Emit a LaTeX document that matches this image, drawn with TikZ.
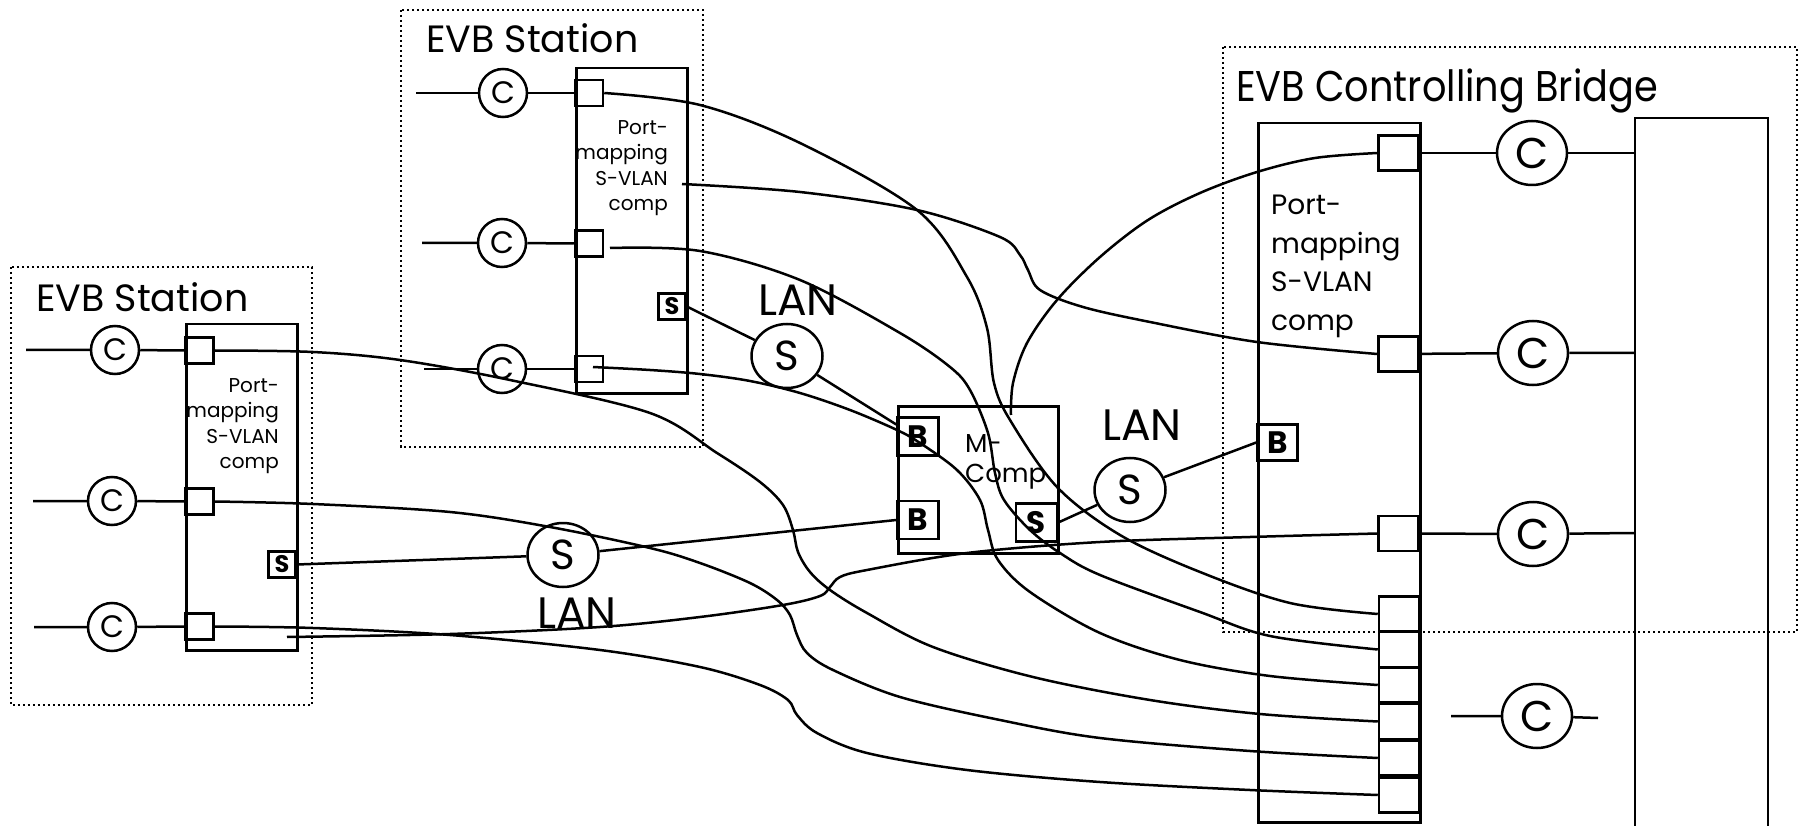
\documentclass[tikz,border=0pt]{standalone}
\usepackage{fontspec}
\setmainfont{Poppins}
\newfontfamily\narrowfont{Poppins}[FakeStretch=0.89]
\usetikzlibrary{shapes.geometric,calc}
\begin{document}
\begin{tikzpicture}[x=1pt,y=-1pt,
  ln/.style={line width=2.5pt},
  dotbox/.style={line width=2.4pt, dash pattern=on 2.4pt off 2.6pt},
  port/.style={draw, line width=2.5pt, minimum width=28pt, minimum height=26pt, inner sep=0pt},
  bport/.style={draw, line width=2.5pt, minimum width=40pt, minimum height=35pt, inner sep=0pt},
  mport/.style={draw, line width=2.5pt, minimum width=41pt, minimum height=38pt, inner sep=0pt, font=\fontsize{31}{31}\selectfont\bfseries},
  sport/.style={draw, line width=2.5pt, minimum width=27pt, minimum height=26pt, inner sep=0pt, font=\fontsize{24}{24}\selectfont\bfseries},
  cs/.style={draw, circle, line width=2.5pt, minimum size=48pt, inner sep=0pt, font=\fontsize{31}{31}\selectfont},
  cb/.style={draw, ellipse, line width=2.5pt, minimum width=70pt, minimum height=64pt, inner sep=0pt, font=\fontsize{43}{43}\selectfont},
  lan/.style={draw, ellipse, line width=2.5pt, minimum width=71pt, minimum height=64pt, inner sep=0pt, font=\fontsize{42}{42}\selectfont},
  box/.style={draw, line width=2.5pt, inner sep=0pt, anchor=north west},
  title/.style={anchor=base west, inner sep=0pt, font=\fontsize{38}{40}\selectfont},
  lantxt/.style={anchor=base west, inner sep=0pt, font=\fontsize{44}{44}\selectfont},
  stxt/.style={anchor=north east, inner sep=0pt, align=right, font=\fontsize{20}{25.5}\selectfont},
  curve/.style={ln, smooth, tension=0.55}
]
\useasboundingbox (0,0) rectangle (1800,826);

% ---------------- left EVB station ----------------
\draw[dotbox] (11,267) rectangle (312,705);
\node[title] (lstitle) at (36,312) {EVB Station};
\node[box, minimum width=111pt, minimum height=326pt] (lsbox) at (185,323) {};
\node[stxt] (lstext) at (279,378) {Port-\\mapping\\S-VLAN\\comp};
\node[port] (lsp1) at (199.5,350.5) {};
\node[port] (lsp2) at (199.5,501.5) {};
\node[port] (lsp3) at (199.5,626.5) {};
\node[sport] (lss) at (282,564.5) {S};
\node[cs] (lsc1) at (115,350) {C};
\node[cs] (lsc2) at (112,501) {C};
\node[cs] (lsc3) at (112,627) {C};
\coordinate (lsl1) at (26,350);
\coordinate (lsl2) at (33,501);
\coordinate (lsl3) at (34,627);
\coordinate (lsin) at (287,637);
\draw[ln] (lsl1) -- (lsc1) -- (lsp1);
\draw[ln] (lsl2) -- (lsc2) -- (lsp2);
\draw[ln] (lsl3) -- (lsc3) -- (lsp3);

% ---------------- top EVB station ----------------
\draw[dotbox] (401,10) rectangle (703,447);
\node[title] (tstitle) at (426,53) {EVB Station};
\node[box, minimum width=111pt, minimum height=325pt] (tsbox) at (575,67) {};
\node[stxt] (tstext) at (668,120) {Port-\\mapping\\S-VLAN\\comp};
\node[port] (tsp1) at (589,93) {};
\node[port] (tsp2) at (589,243.5) {};
\node[port] (tsp3) at (589,369) {};
\node[sport] (tss) at (672,306.5) {S};
\node[cs] (tsc1) at (503,93) {C};
\node[cs] (tsc2) at (502,243) {C};
\node[cs] (tsc3) at (502,369) {C};
\coordinate (tsl1) at (416,93);
\coordinate (tsl2) at (422,243);
\coordinate (tsl3) at (424,369);
\coordinate (ts2s) at (610,248);
\coordinate (ts3s) at (593,367);
\coordinate (tsin) at (682,184);
\draw[ln] (tsl1) -- (tsc1) -- (tsp1);
\draw[ln] (tsl2) -- (tsc2) -- (tsp2);
\draw[ln] (tsl3) -- (tsc3) -- (tsp3);

% ---------------- M-Comp ----------------
\node[box, minimum width=160pt, minimum height=147pt] (mbox) at (897,405) {};
\node[anchor=north west, inner sep=0pt, align=left, font=\fontsize{26}{30}\selectfont] (mtext) at (965,434) {M-\\Comp};
\node[mport] (mb1) at (918,436.5) {B};
\node[mport] (mb2) at (918,520) {B};
\node[mport] (ms) at (1036.5,522.5) {S};
\coordinate (mtop) at (1011,415);

% ---------------- EVB controlling bridge ----------------
\draw[dotbox] (1223,47) rectangle (1797,632);
\node[anchor=base west, inner sep=0pt, font=\fontsize{43}{45}\narrowfont] (brtitle) at (1236,102) {EVB Controlling Bridge};
\node[box, minimum width=162pt, minimum height=699pt] (brbox) at (1257,122) {};
\draw[ln] (1635,830) -- (1635,118) -- (1768,118) -- (1768,830);
\node[anchor=north west, inner sep=0pt, align=left, font=\fontsize{28}{38.5}\selectfont] (brtext) at (1271,195) {Port-\\mapping\\S-VLAN\\comp};
\node[bport] (bp1) at (1398.5,153) {};
\node[bport] (bp2) at (1398.5,354) {};
\node[bport] (bp3) at (1398.5,533.5) {};
\node[bport] (bs1) at (1399,614) {};
\node[bport] (bs2) at (1399,649.5) {};
\node[bport] (bs3) at (1399,685) {};
\node[bport] (bs4) at (1399,721.5) {};
\node[bport] (bs5) at (1399,758) {};
\node[bport] (bs6) at (1399,795) {};
\node[mport, minimum width=40pt, minimum height=36pt] (bb) at (1277.5,442.5) {B};
\node[cb] (bc1) at (1532,153) {C};
\node[cb] (bc2) at (1533,353) {C};
\node[cb] (bc3) at (1533,534) {C};
\node[cb] (bc4) at (1537,716) {C};
\coordinate (bx1) at (1635,153);
\coordinate (bx2) at (1635,353);
\coordinate (bx3) at (1635,533);
\coordinate (bl4) at (1451,716);
\coordinate (br4) at (1598,718);
\draw[ln] (bp1) -- (bc1) -- (bx1);
\draw[ln] (bp2) -- (bc2) -- (bx2);
\draw[ln] (bp3) -- (bc3) -- (bx3);
\draw[ln] (bl4) -- (bc4) -- (br4);

% ---------------- LANs ----------------
\node[lan] (lan1) at (787,356) {S};
\node[lantxt] (lan1t) at (758,316) {LAN};
\node[lan] (lan2) at (1130,490) {S};
\node[lantxt] (lan2t) at (1102,440) {LAN};
\node[lan] (lan3) at (563,555) {S};
\node[lantxt] (lan3t) at (537,628) {LAN};

\draw[ln] (tss.east) -- (lan1);
\draw[ln] (lan1) -- ($(mb1.west)+(0,-12)$);
\draw[ln] (lss.east) -- (lan3);
\draw[ln] (lan3) -- (mb2.west);
\draw[ln] (ms.east) -- (lan2);
\draw[ln] (lan2) -- (bb.west);

% ---------------- channels ----------------
\draw[curve] plot coordinates {(tsp1.east) (700,105) (800,143) (917,210) (967,277) (987,328) (994,383) (1010,420) (1057,487) (1120,535) (1200,572) (1290,603) (bs1.west)};
\draw[curve] plot coordinates {(ts2s) (700,251) (800,280) (900,333) (950,367) (970,390) (988,433) (995,473) (1004,500) (1030,530) (1060,553) (1100,575) (1200,612) (1270,636) (bs2.west)};
\draw[curve] plot coordinates {(ts3s) (650,370) (700,374) (750,381) (800,393) (850,410) (897,430) (920,443) (957,470) (980,500) (988,530) (998,560) (1030,592) (1100,633) (1180,660) (1270,676) (bs3.west)};
\draw[curve] plot coordinates {(lsp1.east) (313,352) (400,360) (510,380) (650,413) (717,453) (760,482) (783,505) (793,530) (798,552) (810,572) (830,590) (867,613) (933,647) (1033,677) (1150,700) (1260,714) (bs4.west)};
\draw[curve] plot coordinates {(lsp2.east) (313,504) (450,512) (550,527) (650,548) (700,563) (750,583) (777,600) (790,615) (797,635) (807,653) (833,670) (900,697) (1000,720) (1100,738) (1250,751) (bs5.west)};
\draw[curve] plot coordinates {(lsp3.east) (313,628) (450,635) (600,650) (700,667) (760,685) (788,700) (797,715) (817,733) (867,753) (967,770) (1100,782) (1250,790) (bs6.west)};
\draw[curve] plot coordinates {(lsin) (450,634) (600,627) (700,617) (783,605) (820,596) (830,587) (840,577) (867,570) (967,553) (1100,542) (1250,537) (bp3.west)};
\draw[curve] plot coordinates {(tsin) (800,192) (917,210) (1000,237) (1020,255) (1028,270) (1040,290) (1083,307) (1150,322) (1257,342) (bp2.west)};
\draw[curve] plot coordinates {(mtop) (1013,383) (1027,343) (1057,300) (1100,257) (1148,220) (1200,193) (1257,172) (1315,158) (bp1.west)};
\end{tikzpicture}
\end{document}
